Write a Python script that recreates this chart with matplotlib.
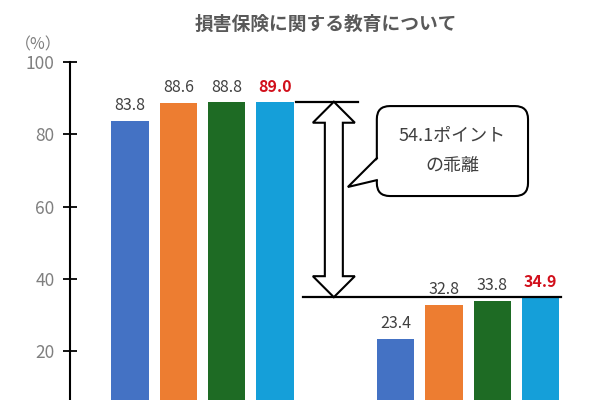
import matplotlib
matplotlib.use("Agg")
import matplotlib.pyplot as plt
from matplotlib.patches import FancyBboxPatch, Polygon
from matplotlib.lines import Line2D

plt.rcParams['font.family'] = ['Noto Sans CJK JP', 'DejaVu Sans']

# data
title = "損害保険に関する教育について"
group1 = [83.8, 88.6, 88.8, 89.0]
group2 = [23.4, 32.8, 33.8, 34.9]
colors = ["#4472C4", "#ED7D31", "#1E6B24", "#159FD9"]
yticks = [20, 40, 60, 80, 100]
gap_text = "54.1ポイント\nの乖離"

fig = plt.figure(figsize=(6, 4), dpi=100)
ax = fig.add_axes([70 / 600, 0, 530 / 600, 338 / 400])
ax.set_xlim(-1.242, 9.73)
ax.set_ylim(6.44, 100)

# pixel size of one data unit, for shapes
ux = (9.73 + 1.242) / 530
uy = (100 - 6.44) / 338

pos1 = [0, 1, 2, 3]
pos2 = [5.5, 6.5, 7.5, 8.5]
width = 0.77

for pos, vals in [(pos1, group1), (pos2, group2)]:
    for i, (x, v) in enumerate(zip(pos, vals)):
        ax.bar(x, v, width=width, color=colors[i], zorder=2)
        last = i == len(vals) - 1
        ax.annotate(f"{v:.1f}", (x, v), xytext=(0, 5), textcoords="offset points",
                    ha="center", va="bottom", fontsize=11.5,
                    color="#D10F1B" if last else "#404040",
                    fontweight="bold" if last else "normal")

# reference lines at the top of each group
top, bot = max(group1), max(group2)
ax.plot([3.44, 4.72], [top, top], color="black", lw=1.6, zorder=3)
ax.plot([3.58, 8.92], [bot, bot], color="black", lw=1.6, zorder=3)

# double arrow
xa = 4.22
hs, hh, hl = 9 * ux, 21 * ux, 21 * uy
pts = [(xa, top), (xa + hh, top - hl), (xa + hs, top - hl), (xa + hs, bot + hl),
       (xa + hh, bot + hl), (xa, bot), (xa - hh, bot + hl), (xa - hs, bot + hl),
       (xa - hs, top - hl), (xa - hh, top - hl)]
ax.add_patch(Polygon(pts, closed=True, facecolor="white", edgecolor="black",
                     lw=1.5, zorder=4, joinstyle="miter"))

# callout box
bx0, bx1 = 5.11, 8.24
by0, by1 = 62.9, 87.8
r = 13 * ux
box = FancyBboxPatch((bx0, by0), bx1 - bx0, by1 - by0,
                     boxstyle=f"round,pad=0,rounding_size={r}",
                     mutation_aspect=uy / ux,
                     facecolor="white", edgecolor="black", lw=1.5, zorder=4)
ax.add_patch(box)
tip = (4.51, 65.4)
b1, b2 = 73.4, 67.3
ax.add_patch(Polygon([(bx0 + 2 * ux, b1), tip, (bx0 + 2 * ux, b2)], closed=True,
                     facecolor="white", edgecolor="none", zorder=5))
ax.add_line(Line2D([bx0, tip[0], bx0], [b1, tip[1], b2], color="black", lw=1.5,
                   zorder=6, solid_joinstyle="miter"))
ax.text((bx0 + bx1) / 2, (by0 + by1) / 2, gap_text, ha="center", va="center",
        fontsize=13, color="#404040", linespacing=1.85, zorder=7)

# axes styling
for s in ["top", "right", "bottom"]:
    ax.spines[s].set_visible(False)
ax.spines["left"].set_linewidth(1.5)
ax.set_xticks([])
ax.set_yticks(yticks)
ax.tick_params(axis="y", direction="inout", length=10, width=1.3,
               labelsize=12.5, labelcolor="#7F7F7F", pad=6)

fig.text(38 / 600, 1 - 45 / 400, "（%）", ha="center", va="center",
         fontsize=11.5, color="#7F7F7F")
fig.text(326 / 600, 1 - 24 / 400, title, ha="center", va="center",
         fontsize=13.5, fontweight="bold", color="#595959")

fig.savefig("out.png", dpi=100)
